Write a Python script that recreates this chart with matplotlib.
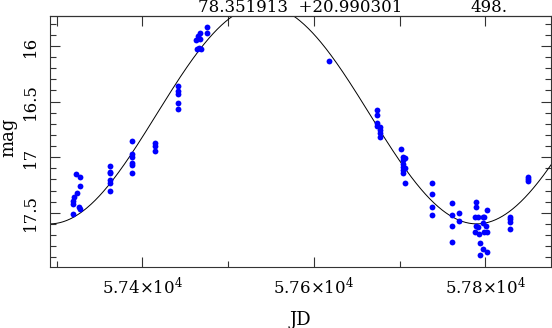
import numpy as np
import matplotlib
matplotlib.use("Agg")
import matplotlib.pyplot as plt
from matplotlib.ticker import MultipleLocator, FixedLocator, FuncFormatter

plt.rcParams['font.family'] = 'DejaVu Serif'
plt.rcParams['mathtext.fontset'] = 'dejavuserif'

# observations (JD, mag)
jd = [57319.5, 57318.8, 57319.5, 57320.4, 57323.5, 57322.7, 57327.3, 57327.3, 57326.5, 57327.3,
      57362.3, 57362.3, 57362.3, 57362.3, 57362.3, 57362.3,
      57388.3, 57388.3, 57388.3, 57388.3, 57388.3, 57388.3,
      57415.2, 57415.2, 57415.2,
      57442.0, 57442.0, 57442.0, 57442.0, 57442.0,
      57462.6, 57463.4, 57466.5, 57465.3, 57467.3, 57468.5, 57475.1, 57475.1, 57467.3,
      57618.1,
      57673.7, 57673.7, 57673.7, 57673.7, 57677.6, 57677.6, 57677.6, 57677.6,
      57701.7, 57704.4, 57704.4, 57704.4, 57704.4, 57704.4, 57704.4, 57706.4, 57706.4, 57706.4,
      57737.5, 57737.5, 57737.5, 57737.5,
      57761.5, 57761.5, 57761.5, 57761.5, 57769.7, 57769.7,
      57789.2, 57789.2, 57788.3, 57791.1, 57797.0, 57798.8, 57801.6, 57789.2, 57791.1, 57797.0,
      57800.8, 57788.3, 57793.0, 57798.8, 57801.6, 57793.8, 57797.7, 57801.6, 57793.8,
      57828.8, 57828.8, 57828.8, 57828.8,
      57849.5, 57849.5, 57849.5]
mag = [17.512, 17.420, 17.393, 17.354, 17.323, 17.153, 17.174, 17.255, 17.444, 17.462,
       17.078, 17.129, 17.144, 17.204, 17.234, 17.303,
       16.854, 16.970, 16.995, 17.049, 17.069, 17.144,
       16.874, 16.896, 16.946,
       16.359, 16.404, 16.431, 16.509, 16.569,
       15.946, 16.030, 16.021, 15.910, 15.886, 16.027, 15.832, 15.881, 15.940,
       16.132,
       16.575, 16.623, 16.689, 16.716, 16.725, 16.755, 16.779, 16.820,
       16.925, 16.995, 17.024, 17.063, 17.084, 17.114, 17.144, 17.009, 17.099, 17.234,
       17.234, 17.332, 17.444, 17.518,
       17.408, 17.518, 17.617, 17.767, 17.503, 17.572,
       17.399, 17.444, 17.534, 17.539, 17.534, 17.539, 17.474, 17.615, 17.629, 17.593,
       17.615, 17.674, 17.689, 17.674, 17.674, 17.773, 17.824, 17.854, 17.878,
       17.534, 17.557, 17.579, 17.647,
       17.174, 17.198, 17.210]

# sinusoid fit
period = 498.0
t_peak = 57541.0
mean_mag = 16.617
amp = 0.983

xlim = (57292.4, 57876.6)
ylim = (17.985, 15.728)
xticks = [57400, 57600, 57800]
yticks = [16, 16.5, 17, 17.5]
ra_dec = "78.351913  +20.990301"
per_text = "498."

fig = plt.figure(figsize=(5.52, 3.28), dpi=100)
ax = fig.add_axes([50/552, 1-266.7/328, 501/552, 251/328])

tt = np.linspace(xlim[0], xlim[1], 600)
model = mean_mag - amp * np.cos(2*np.pi*(tt - t_peak)/period)
ax.plot(tt, model, c='black', lw=0.7)
ax.plot(jd, mag, 'o', c='#0000ff', ms=4.2, mec='none')

ax.set_xlim(*xlim)
ax.set_ylim(*ylim)

ax.xaxis.set_major_locator(FixedLocator(xticks))
ax.xaxis.set_minor_locator(MultipleLocator(100))
ax.xaxis.set_major_formatter(FuncFormatter(
    lambda v, p: r"$%.2f{\times}10^{4}$" % (v/1e4)))
ax.yaxis.set_major_locator(FixedLocator(yticks))
ax.yaxis.set_minor_locator(MultipleLocator(0.1))
ax.yaxis.set_major_formatter(FuncFormatter(lambda v, p: "%g" % v))

ax.tick_params(which='both', direction='in', right=True, top=False,
               labelsize=12, width=0.8, color='#333333')
ax.tick_params(which='major', length=7)
ax.tick_params(which='minor', length=4)
ax.tick_params(axis='x', pad=7)
ax.tick_params(axis='y', labelrotation=90, pad=8)
for lab in ax.get_yticklabels():
    lab.set_va('center')

top = ax.secondary_xaxis('top')
top.xaxis.set_major_locator(MultipleLocator(100))
top.tick_params(direction='in', length=7, labeltop=False, width=0.8, color='#333333')

for sp in ax.spines.values():
    sp.set_linewidth(0.8)
    sp.set_color('#333333')
top.spines['top'].set_linewidth(0.8)

fig.text(8/552, 1-137/328, 'mag', rotation=90, ha='center', va='center', fontsize=13)
fig.text(300/552, 1-320/328, 'JD', ha='center', va='center', fontsize=13)
fig.text(300/552, 1-12/328, ra_dec, ha='center', va='baseline', fontsize=12)
fig.text(489/552, 1-12/328, per_text, ha='center', va='baseline', fontsize=12)

fig.savefig('out.png', dpi=100)
